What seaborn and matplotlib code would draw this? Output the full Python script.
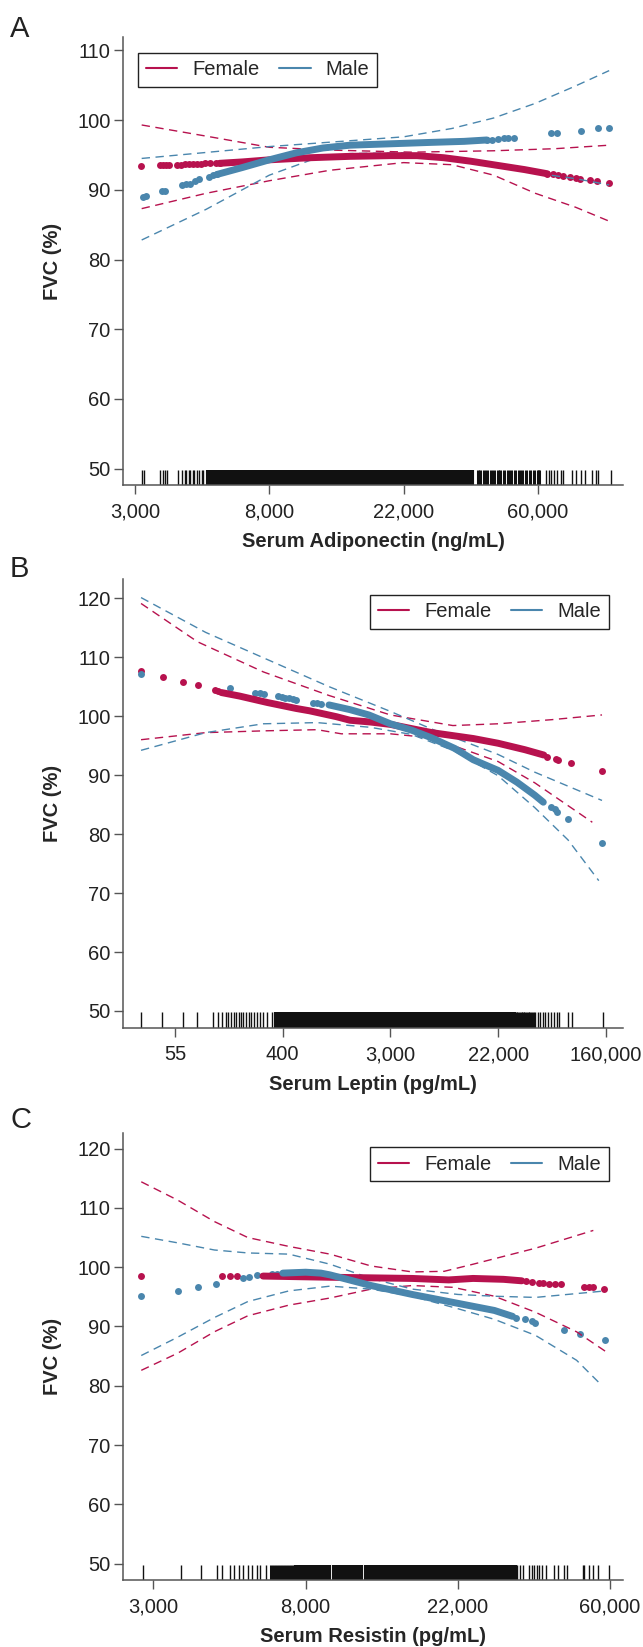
import matplotlib
matplotlib.use("Agg")
import numpy as np
import seaborn as sns
import matplotlib.pyplot as plt
from matplotlib.lines import Line2D

FEMALE = "#B7124E"
MALE = "#4A86AD"

# x values are ln(concentration); tick labels give the back-transformed value

# ---------------- A: adiponectin ----------------
a_xticks = [8, 9, 10, 11]
a_xticklabels = ["3,000", "8,000", "22,000", "60,000"]
a_yticks = [50, 60, 70, 80, 90, 100, 110]

a_f_dot_x = [8.045, 8.19, 8.21, 8.23, 8.25, 8.31, 8.34, 8.37, 8.40, 8.43, 8.46, 8.49, 8.52, 8.56, 8.60, 8.63,
             11.07, 11.11, 11.15, 11.19, 11.24, 11.28, 11.31, 11.39, 11.44, 11.53]
a_f_dot_y = [93.4, 93.5, 93.5, 93.5, 93.5, 93.6, 93.6, 93.7, 93.7, 93.7, 93.7, 93.7, 93.8, 93.8, 93.8, 93.8,
             92.3, 92.2, 92.1, 92.0, 91.85, 91.7, 91.6, 91.4, 91.3, 91.0]
a_f_band_x = [8.63, 8.8, 9.0, 9.3, 9.6, 9.9, 10.1, 10.3, 10.5, 10.7, 10.9, 11.07]
a_f_band_y = [93.8, 94.0, 94.3, 94.6, 94.8, 94.9, 94.9, 94.6, 94.1, 93.5, 92.9, 92.3]
a_m_dot_x = [8.06, 8.08, 8.20, 8.22, 8.35, 8.38, 8.41, 8.45, 8.48, 8.55, 8.58, 8.61,
             10.62, 10.66, 10.70, 10.75, 10.78, 10.82, 11.10, 11.14, 11.32, 11.45, 11.53]
a_m_dot_y = [89.0, 89.1, 89.8, 89.9, 90.7, 90.8, 90.9, 91.2, 91.6, 91.9, 92.1, 92.2,
             97.15, 97.2, 97.3, 97.4, 97.5, 97.5, 98.2, 98.2, 98.5, 98.8, 98.9]
a_m_band_x = [8.61, 8.8, 9.0, 9.2, 9.4, 9.6, 9.9, 10.2, 10.45, 10.62]
a_m_band_y = [92.2, 93.2, 94.3, 95.3, 96.0, 96.4, 96.6, 96.8, 96.95, 97.15]
a_f_hi_x = [8.05, 8.53, 9.0, 9.45, 10.06, 10.67, 11.13, 11.53]
a_f_hi_y = [99.3, 97.7, 96.1, 95.7, 95.4, 95.6, 95.9, 96.4]
a_f_lo_x = [8.05, 8.53, 9.0, 9.45, 10.0, 10.36, 10.67, 10.98, 11.28, 11.53]
a_f_lo_y = [87.3, 89.5, 91.3, 92.8, 93.9, 93.6, 92.1, 89.5, 87.5, 85.5]
a_m_hi_x = [8.05, 9.0, 10.0, 10.36, 10.67, 10.98, 11.28, 11.53]
a_m_hi_y = [94.5, 96.2, 97.6, 98.8, 100.3, 102.4, 104.9, 107.1]
a_m_lo_x = [8.05, 8.53, 9.0, 9.3, 9.6, 10.0, 10.36, 10.67, 10.98, 11.28, 11.53]
a_m_lo_y = [82.8, 87.2, 92.1, 94.2, 95.2, 95.3, 94.4, 93.4, 92.4, 91.6, 90.7]
a_rug_sparse = [8.05, 8.07, 8.19, 8.21, 8.22, 8.24, 8.32, 8.35, 8.37, 8.38, 8.40, 8.41, 8.43, 8.44, 8.46,
                8.48, 8.50, 8.51, 11.06, 11.08, 11.10, 11.12, 11.14, 11.17, 11.19, 11.25, 11.28, 11.32,
                11.35, 11.40, 11.43, 11.45, 11.54]
a_rug_mid = [10.55, 10.57, 10.60, 10.62, 10.65, 10.67, 10.70, 10.72, 10.75, 10.78, 10.80, 10.83, 10.86,
             10.88, 10.91, 10.94, 10.97, 11.00, 11.01]
a_rug_dense = [8.55, 8.59, 8.63, 8.67, 8.71, 8.75, 8.79, 8.83, 8.87, 8.91, 8.95, 8.99, 9.03, 9.07, 9.11,
               9.15, 9.19, 9.23, 9.27, 9.31, 9.35, 9.39, 9.43, 9.47, 9.51, 9.55, 9.59, 9.63, 9.67, 9.71,
               9.75, 9.79, 9.83, 9.87, 9.91, 9.95, 9.99, 10.03, 10.07, 10.11, 10.15, 10.19, 10.23, 10.27,
               10.31, 10.35, 10.39, 10.43, 10.47, 10.50]

# ---------------- B: leptin ----------------
b_xticks = [4, 6, 8, 10, 12]
b_xticklabels = ["55", "400", "3,000", "22,000", "160,000"]
b_yticks = [50, 60, 70, 80, 90, 100, 110, 120]

b_f_dot_x = [3.37, 3.77, 4.15, 4.42, 4.74, 4.80, 10.91, 11.07, 11.12, 11.36, 11.93]
b_f_dot_y = [107.6, 106.7, 105.8, 105.2, 104.4, 104.3, 93.1, 92.7, 92.6, 92.0, 90.7]
b_f_band_x = [4.86, 5.2, 5.72, 6.25, 6.5, 7.0, 7.25, 7.63, 8.0, 8.77, 9.54, 10.0, 10.5, 10.85]
b_f_band_y = [104.0, 103.4, 102.3, 101.3, 100.9, 99.9, 99.3, 99.0, 98.6, 97.2, 96.2, 95.4, 94.3, 93.4]
b_m_dot_x = [3.37, 5.03, 5.49, 5.57, 5.65, 5.91, 5.98, 6.05, 6.12, 6.20, 6.25, 6.56, 6.64, 6.71,
             10.99, 11.05, 11.10, 11.30, 11.93]
b_m_dot_y = [107.1, 104.7, 104.0, 103.9, 103.8, 103.4, 103.3, 103.1, 103.0, 102.9, 102.8, 102.3, 102.2, 102.0,
             84.6, 84.2, 83.7, 82.5, 78.5]
b_m_band_x = [6.86, 7.25, 7.6, 8.0, 8.4, 8.77, 9.2, 9.54, 10.0, 10.35, 10.68, 10.84]
b_m_band_y = [101.9, 101.1, 100.2, 98.7, 97.6, 96.3, 94.5, 92.6, 90.8, 88.8, 86.6, 85.4]
b_f_hi_x = [3.37, 4.42, 5.64, 6.86, 8.0, 9.16, 10.0, 11.0, 11.93]
b_f_hi_y = [119.1, 112.6, 107.5, 103.5, 100.2, 98.4, 98.7, 99.4, 100.2]
b_f_lo_x = [3.37, 4.57, 5.64, 6.64, 7.09, 8.0, 8.77, 10.0, 10.68, 11.75]
b_f_lo_y = [96.0, 97.2, 97.5, 97.7, 97.0, 97.0, 96.3, 92.3, 88.7, 82.0]
b_m_hi_x = [3.37, 4.57, 5.64, 6.86, 8.0, 8.77, 10.0, 10.68, 11.93]
b_m_hi_y = [120.1, 114.2, 109.9, 105.0, 100.8, 97.8, 93.5, 90.5, 85.7]
b_m_lo_x = [3.37, 4.57, 5.64, 6.64, 7.63, 8.39, 9.16, 10.0, 10.68, 11.3, 11.87]
b_m_lo_y = [94.2, 97.2, 98.7, 98.9, 98.1, 96.9, 94.2, 89.9, 84.5, 79.0, 72.1]
b_rug_sparse = [3.37, 3.75, 4.14, 4.41, 4.71, 4.80, 4.88, 4.94, 4.99, 5.04, 5.09, 5.14, 5.18, 5.23, 5.27,
                5.32, 5.37, 5.42, 5.47, 5.53, 5.58, 5.64, 5.70, 5.80, 10.68, 10.74, 10.78, 10.83, 10.88,
                10.93, 10.99, 11.04, 11.09, 11.13, 11.30, 11.37, 11.94]
b_rug_mid = [10.33, 10.37, 10.42, 10.46, 10.50, 10.55, 10.60, 10.64]
b_rug_dense = [5.90, 6.00, 6.10, 6.20, 6.26, 6.38, 6.48, 6.58, 6.68, 6.78, 6.88, 6.98, 7.08, 7.18, 7.28,
               7.38, 7.48, 7.58, 7.68, 7.78, 7.88, 7.98, 8.08, 8.18, 8.28, 8.38, 8.48, 8.58, 8.68, 8.78,
               8.88, 8.98, 9.08, 9.18, 9.28, 9.38, 9.48, 9.58, 9.68, 9.78, 9.88, 9.98, 10.08, 10.18, 10.28]

# ---------------- C: resistin ----------------
c_xticks = [8, 9, 10, 11]
c_xticklabels = ["3,000", "8,000", "22,000", "60,000"]
c_yticks = [50, 60, 70, 80, 90, 100, 110, 120]

c_f_dot_x = [7.92, 8.45, 8.50, 8.55, 10.45, 10.49, 10.53, 10.56, 10.60, 10.64, 10.68, 10.83, 10.86, 10.89, 10.96]
c_f_dot_y = [98.5, 98.5, 98.5, 98.5, 97.6, 97.5, 97.4, 97.3, 97.2, 97.15, 97.1, 96.7, 96.6, 96.6, 96.4]
c_f_band_x = [8.72, 9.16, 9.7, 9.94, 10.1, 10.3, 10.42]
c_f_band_y = [98.5, 98.3, 98.1, 97.85, 98.1, 97.95, 97.7]
c_m_dot_x = [7.92, 8.16, 8.29, 8.41, 8.59, 8.63, 8.68, 8.78, 8.81, 10.38, 10.44, 10.49, 10.51, 10.70, 10.80, 10.97]
c_m_dot_y = [95.1, 96.0, 96.6, 97.2, 98.2, 98.4, 98.6, 98.85, 98.9, 91.5, 91.2, 90.9, 90.6, 89.4, 88.7, 87.8]
c_m_band_x = [8.85, 9.0, 9.1, 9.16, 9.43, 9.70, 10.0, 10.24, 10.36]
c_m_band_y = [99.0, 99.15, 99.0, 98.7, 96.9, 95.4, 93.9, 92.7, 91.7]
c_f_hi_x = [7.92, 8.16, 8.4, 8.62, 8.89, 9.16, 9.43, 9.70, 9.91, 10.1, 10.51, 10.89]
c_f_hi_y = [114.4, 111.3, 107.7, 105.0, 103.5, 102.2, 100.2, 99.2, 99.3, 100.5, 103.2, 106.2]
c_f_lo_x = [7.92, 8.16, 8.4, 8.62, 8.89, 9.16, 9.43, 9.70, 9.97, 10.24, 10.51, 10.78, 10.97]
c_f_lo_y = [82.6, 85.5, 89.1, 91.8, 93.6, 94.8, 96.3, 96.9, 96.6, 95.1, 92.4, 89.1, 85.8]
c_m_hi_x = [7.92, 8.16, 8.4, 8.62, 8.89, 9.16, 9.43, 9.70, 10.0, 10.24, 10.51, 10.97]
c_m_hi_y = [105.2, 104.1, 102.9, 102.4, 102.2, 100.5, 98.1, 96.3, 95.4, 95.1, 94.9, 96.0]
c_m_lo_x = [7.92, 8.16, 8.4, 8.62, 8.89, 9.16, 9.43, 9.70, 10.0, 10.24, 10.51, 10.78, 10.94]
c_m_lo_y = [85.1, 88.2, 91.5, 94.2, 96.0, 96.8, 96.3, 95.1, 93.0, 91.2, 88.5, 84.3, 80.2]
c_rug_sparse = [7.93, 8.18, 8.31, 8.42, 8.45, 8.50, 8.53, 8.56, 8.59, 8.62, 8.65, 8.68, 8.70, 8.74,
                10.39, 10.41, 10.43, 10.47, 10.49, 10.50, 10.52, 10.53, 10.55, 10.58, 10.63, 10.66,
                10.70, 10.72, 10.82, 10.83, 10.86, 10.89, 10.92, 10.99]
c_rug_mid = [8.77, 8.79, 8.81, 8.83, 8.85, 8.87, 8.89, 8.91]
c_rug_dense = [8.94, 8.98, 9.01, 9.05, 9.08, 9.12, 9.15, 9.19, 9.22, 9.26, 9.29, 9.33, 9.36, 9.40, 9.43,
               9.47, 9.50, 9.54, 9.57, 9.61, 9.64, 9.68, 9.71, 9.75, 9.78, 9.82, 9.85, 9.89, 9.92, 9.96,
               9.99, 10.03, 10.06, 10.10, 10.13, 10.17, 10.20, 10.24, 10.27, 10.31, 10.34, 10.37]

sns.set_style("ticks")
plt.rcParams["font.family"] = ["Liberation Sans", "DejaVu Sans"]
plt.rcParams["axes.edgecolor"] = "#555555"
plt.rcParams["xtick.color"] = "#555555"
plt.rcParams["ytick.color"] = "#555555"
plt.rcParams["xtick.labelcolor"] = "#222222"
plt.rcParams["ytick.labelcolor"] = "#222222"

DASH = (0, (6, 4))


def draw_panel(ax, p, xlim, ylim, xticks, xticklabels, yticks, xlabel, loc, anchor):
    # confidence limits (dashed)
    for xs, ys, c in [(p["f_hi_x"], p["f_hi_y"], FEMALE), (p["f_lo_x"], p["f_lo_y"], FEMALE),
                      (p["m_hi_x"], p["m_hi_y"], MALE), (p["m_lo_x"], p["m_lo_y"], MALE)]:
        sns.lineplot(x=xs, y=ys, color=c, lw=1.0, linestyle=DASH, sort=False, estimator=None, ax=ax)
    # predicted values: dense part drawn as a thick band, isolated ones as dots
    for bx, by, dx, dy, c in [(p["f_band_x"], p["f_band_y"], p["f_dot_x"], p["f_dot_y"], FEMALE),
                              (p["m_band_x"], p["m_band_y"], p["m_dot_x"], p["m_dot_y"], MALE)]:
        sns.lineplot(x=bx, y=by, color=c, lw=5.0, solid_capstyle="round", sort=False, estimator=None, ax=ax)
        sns.scatterplot(x=dx, y=dy, color=c, s=25, linewidth=0, legend=False, ax=ax)
    # rug of observations
    sns.rugplot(x=p["rug_sparse"], height=0.034, color="#111111", linewidth=1.0, expand_margins=False, ax=ax)
    sns.rugplot(x=p["rug_mid"], height=0.034, color="#111111", linewidth=2.2, expand_margins=False, ax=ax)
    sns.rugplot(x=p["rug_dense"], height=0.034, color="#111111", linewidth=4.4, expand_margins=False, ax=ax)

    ax.set_xlim(*xlim)
    ax.set_ylim(*ylim)
    ax.set_xticks(xticks)
    ax.set_xticklabels(xticklabels)
    ax.set_yticks(yticks)
    ax.tick_params(axis="both", length=6.5, width=1.0, labelsize=14.5)
    ax.tick_params(axis="x", pad=6.3)
    ax.tick_params(axis="y", pad=2.5)
    ax.set_xlabel(xlabel, fontsize=14.5, fontweight="bold", labelpad=7.5)
    ax.set_ylabel("FVC (%)", fontsize=14.5, fontweight="bold", labelpad=11)
    sns.despine(ax=ax)
    for s in ["left", "bottom"]:
        ax.spines[s].set_linewidth(1.1)

    handles = [Line2D([0], [0], color=FEMALE, lw=1.5), Line2D([0], [0], color=MALE, lw=1.5)]
    leg = ax.legend(handles, ["Female", "Male"], ncol=2, loc=loc, bbox_to_anchor=anchor,
                    borderaxespad=0, fancybox=False, framealpha=1, edgecolor="#222222",
                    fontsize=14.5, handlelength=1.55, handletextpad=0.75, columnspacing=1.0,
                    borderpad=0.38)
    leg.get_frame().set_linewidth(1.0)


def pack(prefix):
    g = globals()
    keys = ["f_dot_x", "f_dot_y", "f_band_x", "f_band_y", "m_dot_x", "m_dot_y", "m_band_x", "m_band_y",
            "f_hi_x", "f_hi_y", "f_lo_x", "f_lo_y", "m_hi_x", "m_hi_y", "m_lo_x", "m_lo_y",
            "rug_sparse", "rug_mid", "rug_dense"]
    return {k: g[prefix + k] for k in keys}


W, H = 643, 1647
fig = plt.figure(figsize=(W / 100, H / 100), dpi=100)

# axes boxes in pixels: left, right, top, bottom
boxes = [(123, 623, 37.5, 485), (123, 623, 579.3, 1027.5), (123, 623, 1132.6, 1580.2)]
axes = []
for l, r, t, b in boxes:
    axes.append(fig.add_axes([l / W, 1 - b / H, (r - l) / W, (b - t) / H]))

draw_panel(axes[0], pack("a_"), (7.911, 11.633), (47.65, 111.85), a_xticks, a_xticklabels, a_yticks,
           "Serum Adiponectin (ng/mL)", "upper left", (0.03, 0.966))
draw_panel(axes[1], pack("b_"), (3.035, 12.32), (47.2, 123.2), b_xticks, b_xticklabels, b_yticks,
           "Serum Leptin (pg/mL)", "upper right", (0.972, 0.966))
draw_panel(axes[2], pack("c_"), (7.80, 11.085), (47.2, 122.7), c_xticks, c_xticklabels, c_yticks,
           "Serum Resistin (pg/mL)", "upper right", (0.972, 0.968))

for letter, yc in [("A", 28.6), ("B", 568.6), ("C", 1120)]:
    fig.text(10 / W, 1 - yc / H, letter, fontsize=21, ha="left", va="center", color="#222222")

fig.savefig("out.png", dpi=100)
